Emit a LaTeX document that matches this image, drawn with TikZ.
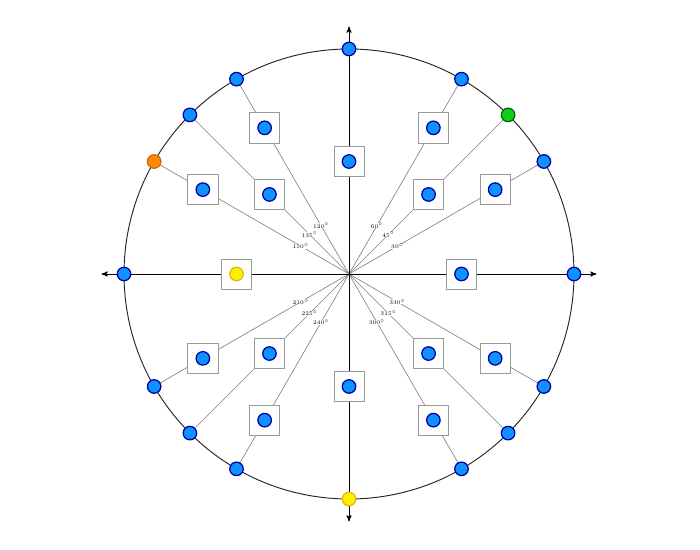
\documentclass[tikz,border=0pt]{standalone}
\usepackage{tikz}
\usetikzlibrary{arrows}
\definecolor{bluefill}{RGB}{15,145,255}
\definecolor{blueline}{RGB}{0,0,165}
\definecolor{greenfill}{RGB}{20,205,20}
\definecolor{greenline}{RGB}{0,105,0}
\definecolor{orangefill}{RGB}{255,140,0}
\definecolor{orangeline}{RGB}{205,105,0}
\definecolor{yellowfill}{RGB}{255,240,0}
\definecolor{yellowline}{RGB}{225,185,0}
\tikzstyle{axis} = [line width=0.5pt,black,<->,>=stealth']
\tikzstyle{ray} = [line width=0.4pt,gray]
\tikzstyle{pt} = [circle,line width=0.8pt,minimum size=0.3cm,inner sep=0pt]
\tikzstyle{ptblue} = [pt,draw=blueline,fill=bluefill]
\tikzstyle{ptgreen} = [pt,draw=greenline,fill=greenfill]
\tikzstyle{ptorange} = [pt,draw=orangeline,fill=orangefill]
\tikzstyle{ptyellow} = [pt,draw=yellowline,fill=yellowfill]
\tikzstyle{box} = [draw=gray!80,fill=white,line width=0.5pt,minimum size=0.67cm,inner sep=0pt]
\tikzstyle{deg} = [font=\tiny,fill=white,inner sep=0pt,transform shape,scale=0.7]

\begin{document}
\begin{tikzpicture}
\useasboundingbox (-7.756,-6.133) rectangle (7.8,6.089);
\coordinate (O) at (0,0);
\coordinate (xleft) at (-5.5,0);
\coordinate (xright) at (5.5,0);
\coordinate (ydown) at (0,-5.5);
\coordinate (yup) at (0,5.5);

% rays from the origin
\foreach \a in {30,45,60,120,135,150,210,225,240,300,315,330}{
  \coordinate (c\a) at (\a:5);
  \draw [ray] (O) -- (c\a);
}
\draw [axis] (xleft) -- (xright);
\draw [axis] (ydown) -- (yup);
\draw [line width=0.6pt,black!85] (O) circle (5cm);

% boxes and points
\foreach \a/\r/\ps/\bs in {0/2.5/ptblue/ptblue, 30/3.75/ptblue/ptblue,
  45/2.5/ptgreen/ptblue, 60/3.75/ptblue/ptblue, 90/2.5/ptblue/ptblue,
  120/3.75/ptblue/ptblue, 135/2.5/ptblue/ptblue, 150/3.75/ptorange/ptblue,
  180/2.5/ptblue/ptyellow, 210/3.75/ptblue/ptblue, 225/2.5/ptblue/ptblue,
  240/3.75/ptblue/ptblue, 270/2.5/ptyellow/ptblue, 300/3.75/ptblue/ptblue,
  315/2.5/ptblue/ptblue, 330/3.75/ptblue/ptblue}{
  \node (b\a) [box] at (\a:\r) {};
  \node (d\a) [\bs] at (b\a.center) {};
  \node (p\a) [\ps] at (\a:5) {};
}

% angle labels
\foreach \a in {30,45,60,120,135,150,210,225,240,300,315,330}{
  \node (l\a) [deg] at (\a:1.24) {$\a^{\circ}$};
}
\end{tikzpicture}
\end{document}
